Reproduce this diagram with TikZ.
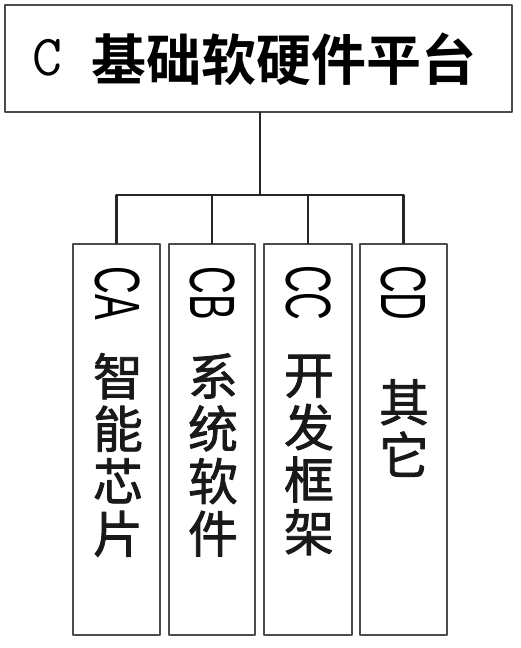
\documentclass[tikz,border=0pt]{standalone}
\usepackage{fontspec}
\newfontfamily\cjk[FakeBold=1.6]{Noto Sans CJK SC}
\newfontfamily\cjkbold{Noto Sans CJK SC Bold}
\newfontfamily\narrowsans{Liberation Sans}
\usepackage{pgf,tikz}

\begin{document}
\begin{tikzpicture}[line cap=round,line join=round,x=1.0pt,y=-1.0pt,
  box/.style={draw=black!70,line width=1.3pt,inner sep=0pt,minimum height=391pt},
  link/.style={draw=black!85,line width=2.6pt},
  codetext/.style={rotate=-90,font=\narrowsans\fontsize{64}{64}\selectfont,inner sep=0pt},
  nametext/.style={align=center,font=\cjk\fontsize{50}{52.5}\selectfont,inner sep=0pt,text=black!90}]
\useasboundingbox (0,0) rectangle (520,648);
\node[draw=black!70,line width=1.3pt,minimum width=507pt,minimum height=107pt,inner sep=0pt] (c) at (258.5,58.5) {};
\node[anchor=west,inner sep=0pt,font=\ttfamily\fontsize{58}{58}\selectfont] (ctag) at (32,58) {C};
\node[anchor=west,inner sep=0pt,font=\cjkbold\fontsize{55}{55}\selectfont] (ctitle) at (91,59) {基础软硬件平台};
% the four parts
\node[box,minimum width=87pt] (ca) at (116.5,439.5) {};
\node[box,minimum width=86pt] (cb) at (212,439.5) {};
\node[box,minimum width=88pt] (cc) at (308,439.5) {};
\node[box,minimum width=87pt] (cd) at (403.5,439.5) {};
\node[codetext] (catag) at (118,293) {\scalebox{0.6}[1]{CA}};
\node[codetext] (cbtag) at (213,293) {\scalebox{0.6}[1]{CB}};
\node[codetext] (cctag) at (309,293) {\scalebox{0.6}[1]{CC}};
\node[codetext] (cdtag) at (404,293) {\scalebox{0.6}[1]{CD}};
\node[nametext] (caname) at (118,455) {智\\能\\芯\\片};
\node[nametext] (cbname) at (213,455) {系\\统\\软\\件};
\node[nametext] (ccname) at (309,455) {开\\发\\框\\架};
\node[nametext] (cdname) at (404,428) {其\\它};
% tree lines
\coordinate (fork) at (260,195);
\draw[link] (c.south -| fork) -- (fork);
\draw[link] (ca.north) |- (fork) -| (cd.north);
\draw[link] (cb.north) -- (cb.north |- fork);
\draw[link] (cc.north) -- (cc.north |- fork);
\end{tikzpicture}
\end{document}
